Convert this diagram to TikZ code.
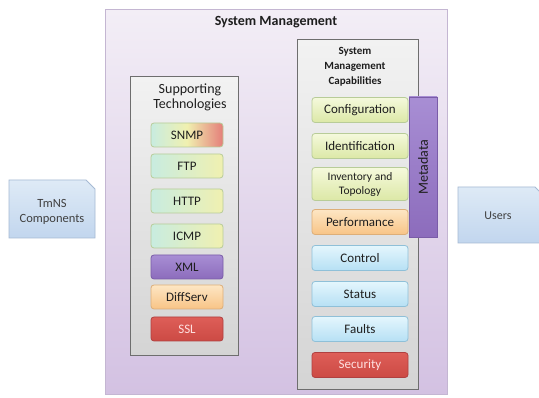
\documentclass[tikz,border=0pt]{standalone}
\usepackage{fontspec}
\setmainfont{Carlito}
\usetikzlibrary{shadings}
\definecolor{txt}{HTML}{1E1E1E}
\definecolor{bgtop}{HTML}{F3EEF6}
\definecolor{bgbot}{HTML}{D3C1E2}
\definecolor{bgline}{HTML}{C4B6D2}
\definecolor{grtop}{HTML}{F2F2F2}
\definecolor{grbot}{HTML}{D4D4D4}
\definecolor{grline}{HTML}{6E6E6E}
\definecolor{glL}{HTML}{C8ECE0}
\definecolor{glR}{HTML}{F0F0B0}
\definecolor{glline}{HTML}{B8CC98}
\definecolor{ylT}{HTML}{F5F9DC}
\definecolor{ylB}{HTML}{DCE8A6}
\definecolor{orT}{HTML}{FDE6C4}
\definecolor{orB}{HTML}{F8C486}
\definecolor{orline}{HTML}{DDAE78}
\definecolor{blT}{HTML}{E4F6FD}
\definecolor{blB}{HTML}{B6E0F4}
\definecolor{blline}{HTML}{8FC0D8}
\definecolor{rdT}{HTML}{DE5E58}
\definecolor{rdB}{HTML}{CC4A44}
\definecolor{rdline}{HTML}{B04040}
\definecolor{puT}{HTML}{A88ED4}
\definecolor{puB}{HTML}{8C6CBC}
\definecolor{puline}{HTML}{7A5CA8}
\definecolor{sbT}{HTML}{DEEAF6}
\definecolor{sbB}{HTML}{C2D6EE}
\definecolor{sbline}{HTML}{A6BAD4}
\tikzset{
  x=1pt, y=-1pt,
  every node/.style={text=txt, font=\fontsize{13}{14}\selectfont, inner sep=0pt},
  frame/.style={draw=bgline, line width=1pt, top color=bgtop, bottom color=bgbot},
  graybox/.style={draw=grline, line width=1pt, top color=grtop, bottom color=grbot},
  item/.style={rounded corners=3pt, line width=0.8pt},
  stitem/.style={item, minimum width=72pt, minimum height=24pt},
  cpitem/.style={item, minimum width=96pt, minimum height=25pt},
  greenitem/.style={draw=glline, left color=glL, right color=glR},
  yellowitem/.style={draw=glline, top color=ylT, bottom color=ylB},
  orangeitem/.style={draw=orline, top color=orT, bottom color=orB},
  blueitem/.style={draw=blline, top color=blT, bottom color=blB},
  reditem/.style={draw=rdline, top color=rdT, bottom color=rdB, text=white!88!red},
  purpleitem/.style={draw=puline, top color=puT, bottom color=puB},
  sidebox/.style={draw=sbline, line width=0.8pt, top color=sbT, bottom color=sbB},
}
\begin{document}
\begin{tikzpicture}
\useasboundingbox (0,0) rectangle (539,398);
\fill[white] (0,0) rectangle (539,398);
% outer frame
\node[frame, minimum width=342pt, minimum height=385pt] (sys) at (276,202.5) {};
\node[font=\bfseries\fontsize{14}{15}\selectfont] (systitle) at (276,22) {System Management};
% supporting technologies
\node[graybox, minimum width=108pt, minimum height=279pt] (sup) at (184,216.5) {};
\node[align=center, font=\fontsize{14}{15.5}\selectfont] (suptitle) at (190,97.5) {Supporting\\Technologies};
\node[stitem, draw=glline, shading=axis, left color=glL, right color=rdT!80, middle color=glR] (snmp) at (187,135) {SNMP};
\node[stitem, greenitem] (ftp) at (187,166) {FTP};
\node[stitem, greenitem] (http) at (187,201) {HTTP};
\node[stitem, greenitem] (icmp) at (187,236) {ICMP};
\node[stitem, purpleitem] (xml) at (187,267) {XML};
\node[stitem, orangeitem] (diff) at (187,297) {DiffServ};
\node[stitem, reditem] (ssl) at (187,329) {SSL};
% capabilities
\node[graybox, minimum width=121pt, minimum height=350pt] (cap) at (357.5,215) {};
\node[align=center, font=\bfseries\fontsize{11}{15}\selectfont] (captitle) at (355,66.5) {System\\Management\\Capabilities};
\node[purpleitem, line width=0.8pt, minimum width=28pt, minimum height=140pt] (meta) at (423,167) {};
\node[rotate=90, font=\fontsize{14}{15}\selectfont] (metatext) at (meta.center) {Metadata};
\node[cpitem, yellowitem] (conf) at (360,110) {Configuration};
\node[cpitem, yellowitem] (ident) at (360,146) {Identification};
\node[cpitem, yellowitem, minimum height=33pt, align=center, font=\fontsize{11.5}{14}\selectfont] (inv) at (360,184) {Inventory and\\Topology};
\node[cpitem, orangeitem] (perf) at (360,222) {Performance};
\node[cpitem, blueitem] (ctrl) at (360,258) {Control};
\node[cpitem, blueitem] (stat) at (360,294) {Status};
\node[cpitem, blueitem] (faul) at (360,329) {Faults};
\node[cpitem, reditem] (secu) at (360,365) {Security};
% side boxes
\draw[sidebox] (9,180) -- (86,180) -- (95,189) -- (95,238) -- (9,238) -- cycle;
\node[align=center, font=\fontsize{12.5}{15}\selectfont, text=txt!85] (tmns) at (52,212) {TmNS\\Components};
\draw[sidebox] (458,187) -- (535,187) -- (544,196) -- (544,243) -- (458,243) -- cycle;
\node[font=\fontsize{12}{13}\selectfont, text=txt!85] (users) at (498,216) {Users};
\end{tikzpicture}
\end{document}
